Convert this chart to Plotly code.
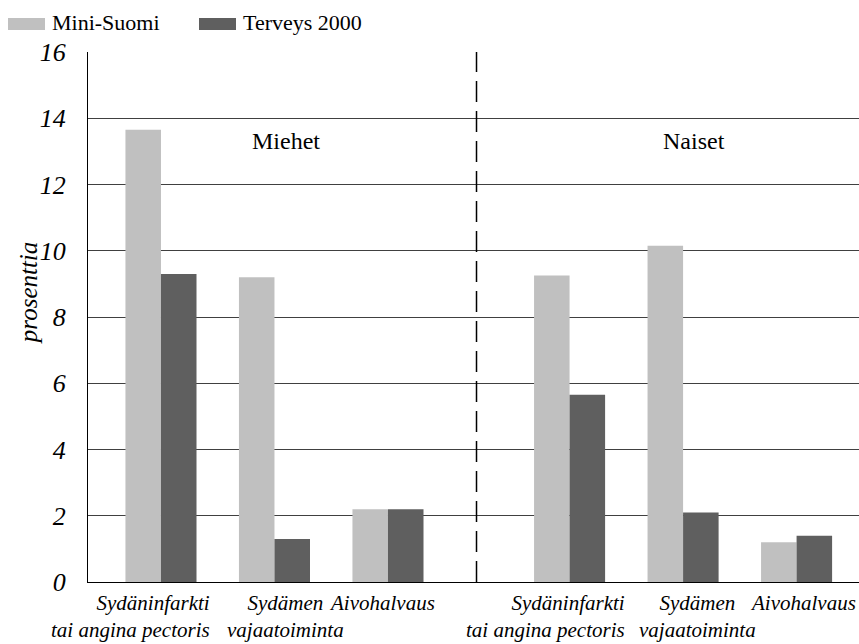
import plotly.graph_objects as go

groups = ["Miehet", "Naiset"]
categories = ["Sydäninfarkti<br>tai angina pectoris", "Sydämen<br>vajaatoiminta", "Aivohalvaus"]
series_names = ["Mini-Suomi", "Terveys 2000"]
mini_suomi = [13.65, 9.2, 2.2, 9.25, 10.15, 1.2]
terveys_2000 = [9.3, 1.3, 2.2, 5.65, 2.1, 1.4]
y_ticks = [0, 2, 4, 6, 8, 10, 12, 14, 16]
y_title = "prosenttia"

# layout/style
group_gap = 0.6
colors = ["#c0c0c0", "#5f5f5f"]
label_shifts = [-30, 11, -6, -24, 14, 6]
label_align = ["right", "center", "center"]
SERIF = "'Liberation Serif', 'Times New Roman', serif"

x_pos = []
x_text = []
x_align = []
for gi, g in enumerate(groups):
    for ci, c in enumerate(categories):
        x_pos.append(gi * (len(categories) + group_gap) + ci)
        x_text.append(c)
        x_align.append(label_align[ci])

fig = go.Figure()
for name, vals, col in zip(series_names, [mini_suomi, terveys_2000], colors):
    fig.add_trace(go.Bar(x=x_pos, y=vals, name=name, marker=dict(color=col, line=dict(width=0)),
                         showlegend=False, hoverinfo="skip"))

W, H = 859, 644
ML, MR, MT, MB = 88, 0, 52, 62
PW = W - ML - MR
PH = H - MT - MB

fig.update_layout(
    width=W, height=H,
    margin=dict(l=ML, r=MR, t=MT, b=MB, autoexpand=False),
    plot_bgcolor="white", paper_bgcolor="white",
    barmode="group", bargap=0.374, bargroupgap=0,
    font=dict(family=SERIF, size=22, color="black"),
    showlegend=False,
    hovermode=False,
)

mid = (x_pos[len(categories) - 1] + x_pos[len(categories)]) / 2 - 0.02
fig.update_xaxes(range=[x_pos[0] - 0.643, x_pos[-1] + 0.55], showticklabels=False,
                 showgrid=False, zeroline=False, showline=True, linecolor="black", linewidth=1,
                 ticks="")
fig.update_yaxes(range=[0, 16], tickvals=y_ticks, ticktext=[f"<i>{v}</i>" for v in y_ticks],
                 tickfont=dict(family=SERIF, size=26), ticks="", ticklabelstandoff=16,
                 showgrid=True, gridcolor="#404040", gridwidth=1, zeroline=False,
                 showline=True, linecolor="black", linewidth=1)

# y title
fig.add_annotation(x=-60 / PW, y=0.545, xref="paper", yref="paper", text=f"<i>{y_title}</i>",
                   textangle=-90, showarrow=False, xanchor="center", yanchor="middle",
                   font=dict(family=SERIF, size=25))

# dashed separator
fig.add_shape(type="line", xref="x", yref="paper", x0=mid, x1=mid, y0=0, y1=1,
              line=dict(color="black", width=1.5, dash="21px,9px"))

# category labels
for xp, txt, sh, al in zip(x_pos, x_text, label_shifts, x_align):
    fig.add_annotation(x=xp, y=0, xref="x", yref="paper", text=f"<i>{txt}</i>", showarrow=False,
                       xanchor="center", yanchor="top", align=al, xshift=sh, yshift=-7,
                       font=dict(family=SERIF, size=21))

# group labels
for gi, g in enumerate(groups):
    cx = x_pos[gi * len(categories) + 1] + 0.1
    fig.add_annotation(x=cx, y=13.3, xref="x", yref="y", text=g, showarrow=False,
                       xanchor="center", yanchor="middle", font=dict(family=SERIF, size=24))

# legend (swatches + names) above the plot, left of the axis
sw_left = [-80, 111]
sw_w, sw_top, sw_bot = 37, 34, 22
for name, col, sl in zip(series_names, colors, sw_left):
    fig.add_shape(type="rect", xref="paper", yref="paper",
                  x0=sl / PW, x1=(sl + sw_w) / PW, y0=1 + sw_bot / PH, y1=1 + sw_top / PH,
                  fillcolor=col, line=dict(width=0))
    fig.add_annotation(x=(sl + sw_w + 5) / PW, y=1 + 30 / PH, xref="paper", yref="paper",
                       text=name, showarrow=False, xanchor="left", yanchor="middle",
                       font=dict(family=SERIF, size=22))

fig.write_html("out.html", config={"displayModeBar": False, "staticPlot": True},
               post_script="document.body.style.margin='0';document.body.style.overflow='hidden';")
